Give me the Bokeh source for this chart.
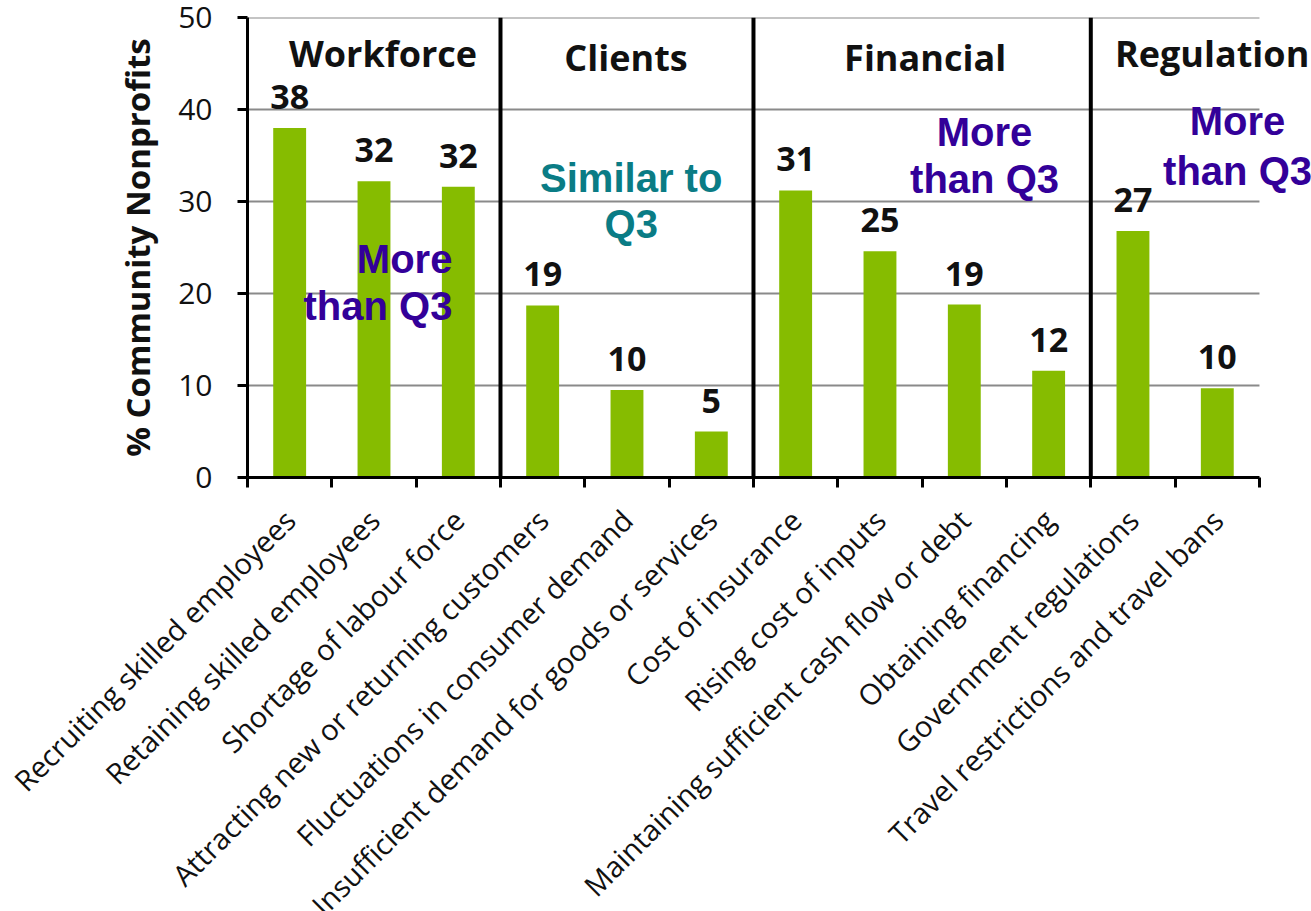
from bokeh.plotting import figure
from bokeh.models import Range1d, FixedTicker, ColumnDataSource
from bokeh.layouts import column
from bokeh.core.properties import value
from bokeh.embed import file_html
from bokeh.resources import INLINE
import math

# ---------------- data ----------------
categories = [
    "Recruiting skilled employees",
    "Retaining skilled employees",
    "Shortage of labour force",
    "Attracting new or returning customers",
    "Fluctuations in consumer demand",
    "Insufficient demand for goods or services",
    "Cost of insurance",
    "Rising cost of inputs",
    "Maintaining sufficient cash flow or debt",
    "Obtaining financing",
    "Government regulations",
    "Travel restrictions and travel bans",
]
values = [38.0, 32.2, 31.6, 18.7, 9.5, 5.0, 31.2, 24.6, 18.8, 11.6, 26.8, 9.7]
value_labels = ["38", "32", "32", "19", "10", "5", "31", "25", "19", "12", "27", "10"]

groups = ["Workforce", "Clients", "Financial", "Regulation"]
group_sizes = [3, 3, 4, 2]

y_ticks = [0, 10, 20, 30, 40, 50]

note_lines = ["More", "than Q3", "Similar to", "Q3", "More", "than Q3", "More", "than Q3"]
note_kind = ["more", "more", "similar", "similar", "more", "more", "more", "more"]

# ---------------- layout / style ----------------
GREEN = "#86BC00"
PURPLE = "#330099"
TEAL = "#0A7C85"
FONT = "Open Sans"

W, H = 1311, 911
LEFT, TOP, AXIS_Y = 247, 17, 477     # frame left, y=50 position, y=0 position (px)
TOP_H = AXIS_Y + 24                  # height of upper (chart) figure
LABEL_DROP = 37                      # label anchor distance below the axis line (px)
X_PX_PER_UNIT = 84.33
X_START = -0.5
X_END = X_START + (W - LEFT) / X_PX_PER_UNIT

note_x = [1.93, 1.93, 4.05, 4.05, 8.24, 8.24, 11.24, 11.24]
note_y = [23.8, 18.6, 32.6, 27.6, 37.6, 32.4, 38.7, 33.3]
note_align = ["right", "right", "center", "center", "center", "center", "center", "center"]
title_xoff = [9, -1, 3, 37]
title_y = [46.1, 45.65, 45.65, 46.1]

n = len(categories)
xs = list(range(n))

# ================= upper figure: bars and value axis =================
p = figure(width=W, height=TOP_H,
           x_range=Range1d(X_START, X_END), y_range=Range1d(0, 50),
           output_backend="svg", toolbar_location=None,
           min_border_left=LEFT, min_border_right=0,
           min_border_top=TOP, min_border_bottom=TOP_H - AXIS_Y)
p.frame_align = False
p.background_fill_color = "white"
p.border_fill_color = "white"
p.outline_line_color = None
p.xgrid.visible = False
p.ygrid.visible = False

# gridlines (limited to the category span)
gy = [t for t in y_ticks if t > 0]
p.segment(x0=[-0.5] * len(gy), x1=[n - 0.5] * len(gy), y0=gy, y1=gy,
          line_color="#8a8a8a", line_width=2)

# bars
src = ColumnDataSource(dict(x=xs, top=values, lab=value_labels,
                            zero=[0] * n, cat=categories))
p.vbar(x="x", top="top", bottom=0, width=0.39, source=src,
       fill_color=GREEN, line_color=None)

# value labels
p.text(x="x", y="top", text="lab", source=src,
       text_font=value(FONT), text_font_style="bold", text_font_size="34px",
       text_align="center", text_baseline="middle", y_offset=-31,
       text_color="#111111")

# group separators
bounds = [-0.5]
centers = []
acc = 0
for s in group_sizes:
    centers.append(acc + s / 2 - 0.5)
    acc += s
    bounds.append(acc - 0.5)
sep = bounds[1:-1]
p.segment(x0=sep, x1=sep, y0=[0] * len(sep), y1=[50] * len(sep),
          line_color="black", line_width=4)

# group titles
for g, c, xo, ty in zip(groups, centers, title_xoff, title_y):
    p.text(x=[c], y=[ty], text=[g], x_offset=xo,
           text_font=value(FONT), text_font_style="bold", text_font_size="36px",
           text_align="center", text_baseline="middle", text_color="#111111")

# notes
for t, k, nx, ny, al in zip(note_lines, note_kind, note_x, note_y, note_align):
    p.text(x=[nx], y=[ny], text=[t],
           text_font=value("Liberation Sans"), text_font_style="bold",
           text_font_size="40px", text_align=al, text_baseline="middle",
           text_color=PURPLE if k == "more" else TEAL)

# category axis: boundary ticks only (labels drawn below)
xa = p.xaxis[0]
xa.ticker = FixedTicker(ticks=xs, minor_ticks=[i - 0.5 for i in range(n + 1)])
xa.major_label_overrides = {i: "" for i in xs}
xa.major_label_text_font_size = "0px"
xa.major_label_standoff = 0
xa.major_tick_in = 0
xa.major_tick_out = 0
xa.minor_tick_in = 0
xa.minor_tick_out = 10
xa.minor_tick_line_width = 3
xa.minor_tick_line_color = "black"
xa.axis_line_width = 3
xa.axis_line_color = "black"
xa.bounds = (-0.5, n - 0.5)

# value axis
ya = p.yaxis[0]
ya.ticker = FixedTicker(ticks=y_ticks)
ya.major_label_text_font = FONT
ya.major_label_text_font_size = "30px"
ya.major_label_text_color = "#111111"
ya.major_label_standoff = 25
ya.major_tick_in = 0
ya.major_tick_out = 10
ya.major_tick_line_width = 3
ya.minor_tick_line_color = None
ya.axis_line_width = 3
ya.axis_line_color = "black"
ya.bounds = (0, 50)
ya.axis_label = "% Community Nonprofits"
ya.axis_label_text_font = FONT
ya.axis_label_text_font_style = "bold"
ya.axis_label_text_font_size = "33px"
ya.axis_label_text_color = "#111111"
ya.axis_label_standoff = 15

# ================= lower figure: rotated category labels =================
BOT_H = H - TOP_H
q = figure(width=W, height=BOT_H,
           x_range=Range1d(X_START - LEFT / X_PX_PER_UNIT, X_END),
           y_range=Range1d(-BOT_H, 0),
           x_axis_location=None, y_axis_location=None,
           output_backend="svg", toolbar_location=None,
           min_border_left=0, min_border_right=0,
           min_border_top=0, min_border_bottom=0)
q.frame_align = False
q.background_fill_color = "white"
q.border_fill_color = "white"
q.outline_line_color = None
q.xgrid.visible = False
q.ygrid.visible = False
q.text(x="x", y="zero", text="cat", source=src,
       angle=math.pi / 4, text_align="right", text_baseline="middle",
       x_offset=0, y_offset=AXIS_Y + LABEL_DROP - TOP_H,
       text_font=value(FONT), text_font_size="29px", text_color="#111111")

layout = column(p, q, spacing=0)
open("out.html", "w").write(file_html(layout, INLINE))
